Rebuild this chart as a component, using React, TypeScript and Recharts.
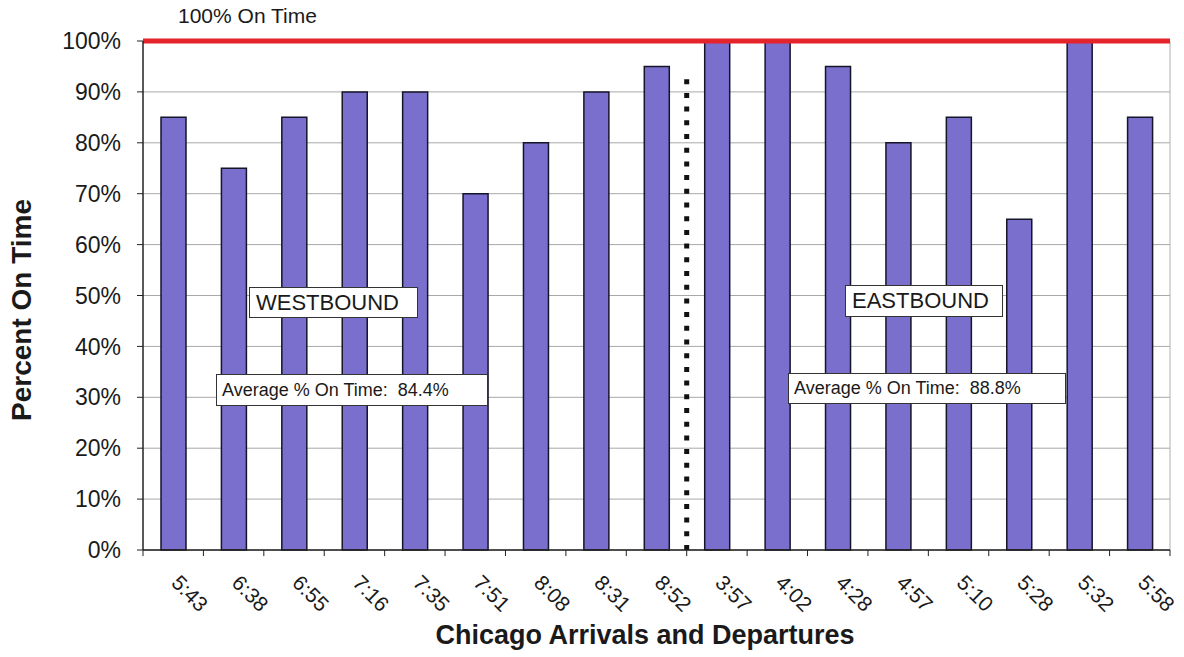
import { BarChart, Bar, XAxis, YAxis, CartesianGrid, ReferenceLine } from "recharts";

const FONT = '"Liberation Sans", Arial, Helvetica, sans-serif';

// Chicago departure times, westbound runs first then eastbound
const westTimes = ["5:43", "6:38", "6:55", "7:16", "7:35", "7:51", "8:08", "8:31", "8:52"];
const eastTimes = ["3:57", "4:02", "4:28", "4:57", "5:10", "5:28", "5:32", "5:58"];

// percent on time per run
const westPct = [85, 75, 85, 90, 90, 70, 80, 90, 95];
const eastPct = [100, 100, 95, 80, 85, 65, 100, 85];

const yTicks = [0, 10, 20, 30, 40, 50, 60, 70, 80, 90, 100];
const TARGET = 100;
const DIVIDER_TOP = 94;
const TICK_DEPTH = -1.2; // little tick marks hang just under the 0% line

const times = [...westTimes, ...eastTimes];
const pcts = [...westPct, ...eastPct];
const rows = times.map((t, i) => ({ time: t, pct: pcts[i] }));

const avg = (a: number[]) => (a.reduce((s, v) => s + v, 0) / a.length).toFixed(1);

function XTick(props: any) {
  const { x, y, payload } = props;
  const bx = x - 3;
  const by = y + 32;
  return (
    <text x={bx} y={by} transform={`rotate(45 ${bx} ${by})`} fontSize={21} fill="#1a1a1a" fontFamily={FONT}>
      {payload.value}
    </text>
  );
}

const boxStyle: React.CSSProperties = {
  position: "absolute",
  background: "#fff",
  border: "1.5px solid #333",
  boxSizing: "border-box",
  fontFamily: FONT,
  color: "#1a1a1a",
  whiteSpace: "nowrap",
  display: "flex",
  alignItems: "center",
};

export default function App() {
  const last = times[times.length - 1];
  return (
    <div style={{ position: "absolute", left: 0, top: 0, width: 1184, height: 657, background: "#fff" }}>
      <BarChart
        width={1184}
        height={657}
        data={rows}
        margin={{ top: 41, right: 14, bottom: 0, left: 0 }}
        barSize={25}
      >
        <CartesianGrid vertical={false} stroke="#a8a8a8" />
        <XAxis
          dataKey="time"
          height={107}
          interval={0}
          tickLine={false}
          tickSize={0}
          axisLine={{ stroke: "#222", strokeWidth: 1.5 }}
          tick={<XTick />}
        />
        <YAxis
          domain={[0, 100]}
          ticks={yTicks}
          width={143}
          tickSize={6}
          tickMargin={16}
          tickFormatter={(v) => `${v}%`}
          tick={{ fontSize: 23, fill: "#1a1a1a", fontFamily: FONT }}
          axisLine={{ stroke: "#222", strokeWidth: 1.5 }}
          tickLine={{ stroke: "#222" }}
        />
        <ReferenceLine x={last} position="end" stroke="#b0b0b0" />
        {times.map((t) => (
          <ReferenceLine
            key={t}
            position="start"
            ifOverflow="visible"
            segment={[{ x: t, y: 0 }, { x: t, y: TICK_DEPTH }]}
            stroke="#222"
          />
        ))}
        <ReferenceLine
          position="end"
          ifOverflow="visible"
          segment={[{ x: last, y: 0 }, { x: last, y: TICK_DEPTH }]}
          stroke="#222"
        />
        <Bar dataKey="pct" fill="#7a6fcd" stroke="#15152a" strokeWidth={1.5} isAnimationActive={false} />
        <ReferenceLine y={TARGET} stroke="#e5232a" strokeWidth={5} />
        <ReferenceLine
          position="end"
          segment={[{ x: westTimes[westTimes.length - 1], y: 0 }, { x: westTimes[westTimes.length - 1], y: DIVIDER_TOP }]}
          stroke="#111"
          strokeWidth={5}
          strokeDasharray="5 8.7"
        />
      </BarChart>

      <div style={{ position: "absolute", left: 178, top: 4, fontFamily: FONT, fontSize: 21, color: "#1a1a1a" }}>
        100% On Time
      </div>

      <div style={{ ...boxStyle, left: 249, top: 287, width: 169, height: 31, fontSize: 22, paddingLeft: 6 }}>WESTBOUND</div>
      <div style={{ ...boxStyle, left: 216, top: 374, width: 272, height: 32, fontSize: 18, paddingLeft: 5 }}>
        Average % On Time:&nbsp;&nbsp;{avg(westPct)}%
      </div>
      <div style={{ ...boxStyle, left: 845, top: 285, width: 158, height: 32, fontSize: 22, paddingLeft: 6 }}>EASTBOUND</div>
      <div style={{ ...boxStyle, left: 788, top: 373, width: 278, height: 31, fontSize: 18, paddingLeft: 5 }}>
        Average % On Time:&nbsp;&nbsp;{avg(eastPct)}%
      </div>

      <div
        style={{
          position: "absolute",
          left: 0,
          width: 1290,
          top: 620,
          textAlign: "center",
          fontFamily: FONT,
          fontWeight: "bold",
          fontSize: 27,
          color: "#1a1a1a",
        }}
      >
        Chicago Arrivals and Departures
      </div>
      <div
        style={{
          position: "absolute",
          left: 22,
          top: 310,
          transform: "translate(-50%, -50%) rotate(-90deg)",
          fontFamily: FONT,
          fontWeight: "bold",
          fontSize: 28,
          color: "#1a1a1a",
          whiteSpace: "nowrap",
        }}
      >
        Percent On Time
      </div>
    </div>
  );
}
